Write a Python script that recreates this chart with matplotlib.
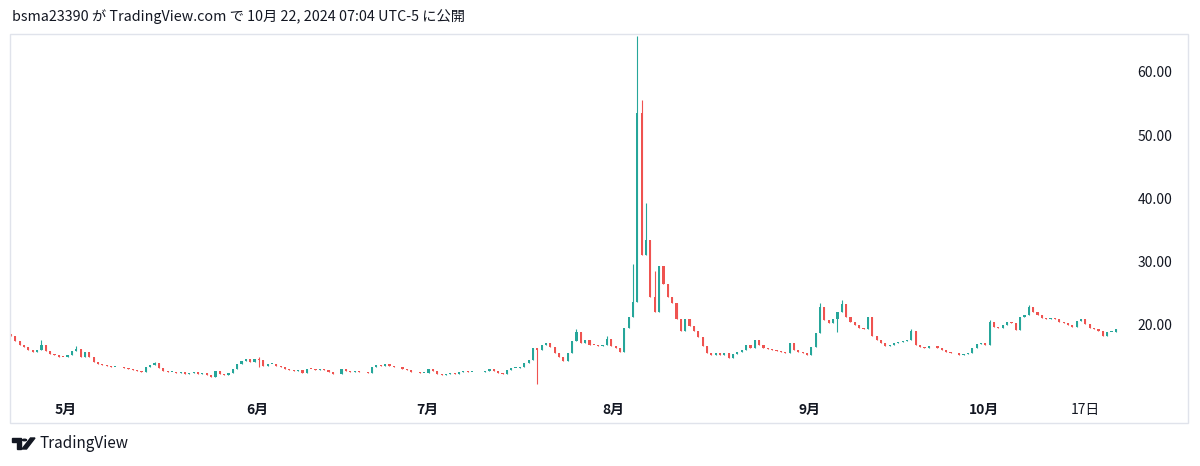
import numpy as np
import matplotlib.pyplot as plt
from matplotlib.patches import Rectangle, Polygon, Circle

plt.rcParams['font.family'] = ['Noto Sans CJK JP', 'DejaVu Sans']

# closes, two bars per trading day
apr_close = [18.3, 17.5, 16.9, 16.5, 16.0, 15.8, 16.1, 16.9, 15.9, 15.4, 15.3, 15.0, 14.9]
may_close = [15.3, 15.9, 16.2, 15.0, 15.7, 14.9, 14.2, 13.9, 13.7, 13.5, 13.4, 13.4, 13.3, 13.2, 13.1,
             12.9, 12.8, 12.6, 13.4, 13.6, 14.0, 13.2, 12.8, 12.6, 12.6, 12.4, 12.5, 12.3, 12.4, 12.5,
             12.3, 12.4, 12.1, 11.8, 12.7, 12.3, 12.1, 12.4, 13.1, 13.8, 14.3, 14.6, 14.2, 14.7]
jun_close = [14.4, 13.5, 13.8, 13.9, 13.5, 13.3, 13.1, 12.9, 12.8, 12.9, 12.4, 13.1, 13.0, 12.9, 13.0,
             12.9, 12.5, 12.3, 12.2, 13.1, 12.8, 12.6, 12.7, 12.6, 12.5, 12.4, 13.3, 13.6, 13.5, 13.8,
             13.5, 13.4, 13.3, 13.0, 12.9, 12.6, 12.5, 12.4, 12.4]
jul_close = [13.0, 12.8, 12.3, 12.1, 12.2, 12.4, 12.3, 12.6, 12.8, 12.6, 12.6, 12.5, 12.6, 12.8, 13.0,
             12.8, 12.4, 12.2, 12.9, 13.2, 13.2, 13.4, 14.0, 14.5, 16.4, 16.0, 16.8, 17.2, 16.5, 15.6,
             15.0, 14.3, 15.5, 17.4, 18.9, 17.2, 17.6, 16.9, 16.8, 16.6, 16.8, 17.8, 16.6]
aug_close = [16.3, 15.8, 19.5, 21.3, 23.6, 53.5, 31.0, 33.5, 24.5, 22.0, 29.3, 26.5, 24.4, 23.5, 21.0,
             19.0, 21.0, 19.8, 19.0, 18.1, 16.6, 15.6, 15.2, 15.5, 15.2, 15.6, 14.8, 15.4, 15.7, 16.1,
             16.9, 16.4, 17.6, 16.9, 16.4, 16.2, 16.0, 15.9, 15.7, 15.6, 17.2, 16.1, 15.8, 15.5, 15.3]
sep_close = [16.5, 18.8, 22.8, 20.8, 20.3, 20.9, 22.1, 23.3, 21.2, 20.4, 20.0, 19.6, 19.4, 21.2, 18.2,
             17.7, 17.1, 16.6, 16.9, 17.2, 17.3, 17.5, 17.7, 19.0, 16.9, 16.5, 16.4, 16.6, 16.7, 16.4,
             16.0, 15.7, 15.6, 15.5, 15.3, 15.4, 15.6, 16.4, 17.0, 17.1]
oct_close = [16.8, 20.5, 19.7, 19.5, 20.0, 20.5, 20.3, 19.2, 21.3, 21.6, 22.8, 22.0, 21.6, 21.1, 20.9,
             21.1, 21.0, 20.5, 20.3, 20.0, 19.7, 20.6, 21.0, 20.2, 19.6, 19.4, 19.1, 18.2, 18.9, 18.9, 19.4]
first_open = 18.6

# bars whose wick sticks out of the body
high_idx = [0, 7, 15, 33, 57, 130, 137, 143, 144, 145, 146, 148, 186, 191, 197, 207, 225, 234]
high_val = [18.6, 17.6, 16.6, 14.2, 14.9, 19.3, 18.3, 29.6, 65.7, 55.6, 39.3, 28.5, 23.4, 23.9, 21.3, 19.4, 20.8, 23.2]
low_idx = [57, 121, 190]
low_val = [13.3, 10.6, 18.9]

month_labels = ['5月', '6月', '7月', '8月', '9月', '10月']
day_label = '17日'
day_offset = 23
price_ticks = [20, 30, 40, 50, 60]

months = [apr_close, may_close, jun_close, jul_close, aug_close, sep_close, oct_close]
close = np.array(sum(months, []))
opn = np.concatenate([[first_open], close[:-1]])
high = np.maximum(opn, close)
low = np.minimum(opn, close)
high[high_idx] = np.maximum(high[high_idx], high_val)
low[low_idx] = np.minimum(low[low_idx], low_val)
x = np.arange(len(close))

W, H = 1200, 466
fig = plt.figure(figsize=(12, 4.66), dpi=100)

def fx(px):
    return px / W

def fy(py):
    return 1 - py / H

# chart frame
fig.patches.append(Rectangle((fx(10), fy(423)), fx(1178), 389 / H, transform=fig.transFigure,
                             fill=False, edgecolor='#e0e3eb', linewidth=1))

ax = fig.add_axes([fx(10), fy(395), fx(1118), 361 / H])
for s in ax.spines.values():
    s.set_visible(False)
ax.set_facecolor('none')

up = close >= opn
cols = np.where(up, '#26a69a', '#ef5350')
ax.vlines(x, low, high, colors=cols, linewidth=0.8)
body = np.maximum(np.abs(close - opn), 0.12)
ax.bar(x, body, bottom=np.minimum(opn, close), width=0.5, color=cols, linewidth=0)

ax.set_xlim(-0.23, 256.8)
ax.set_ylim(8.93, 66.0)

ax.yaxis.tick_right()
ax.set_yticks(price_ticks)
ax.set_yticklabels([f'{v:.2f}' for v in price_ticks])
ax.tick_params(axis='y', length=0, pad=7, labelsize=10, labelcolor='#131722')

starts = np.cumsum([len(m) for m in months])[:-1]
ticks = list(starts - 0.4) + [starts[-1] + day_offset - 0.1]
ax.set_xticks(ticks)
ax.set_xticklabels(month_labels + [day_label])
ax.tick_params(axis='x', length=0, pad=6, labelsize=10, labelcolor='#131722')
for lab in ax.get_xticklabels()[:-1]:
    lab.set_fontweight('bold')

fig.text(fx(12), fy(17), 'bsma23390 が TradingView.com で 10月 22, 2024 07:04 UTC-5 に公開',
         fontsize=10.3, color='#131722', va='center', ha='left')

# TradingView logo
def px_pts(pts):
    return [(fx(a), fy(b)) for a, b in pts]

fig.patches.append(Polygon(px_pts([(12, 438), (21, 438), (21, 449), (17, 449), (17, 442), (12, 442)]),
                           closed=True, transform=fig.transFigure, color='#131722'))
fig.patches.append(Circle((fx(24.5), fy(440)), 2 / W, transform=fig.transFigure, color='#131722'))
fig.patches.append(Polygon(px_pts([(22, 449), (26.5, 449), (35, 438), (30.5, 438)]),
                           closed=True, transform=fig.transFigure, color='#131722'))
fig.text(fx(40), fy(444), 'TradingView', fontsize=11, color='#131722', va='center', ha='left')

fig.savefig('out.png', dpi=100, facecolor='white')
